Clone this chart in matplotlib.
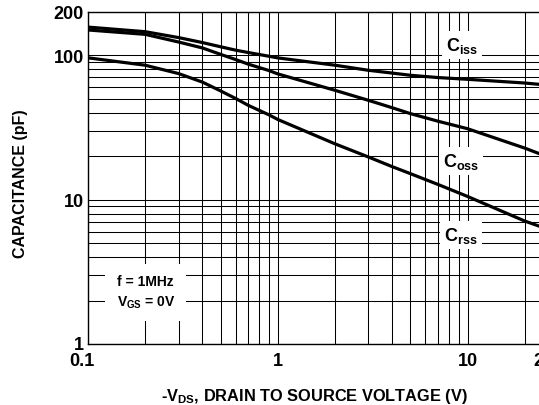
import matplotlib
matplotlib.use("Agg")
import matplotlib.pyplot as plt
import matplotlib.transforms as mtransforms
from matplotlib.ticker import NullFormatter, LogLocator

plt.rcParams['font.family'] = ['Liberation Sans', 'DejaVu Sans']
plt.rcParams['font.weight'] = 'bold'
plt.rcParams['mathtext.fontset'] = 'custom'
plt.rcParams['mathtext.rm'] = 'Liberation Sans:bold'
plt.rcParams['mathtext.default'] = 'rm'

# -VDS (V)
vds = [0.1, 0.2, 0.3, 0.4, 0.5, 0.6, 0.7, 0.9, 1, 2, 3, 4, 5, 7, 10, 20, 25]
# capacitances (pF)
ciss = [156, 145, 132, 122, 114, 108, 104, 98, 95.5, 85, 78.4, 75, 72.4, 69.8, 67.9, 64, 62.3]
coss = [149, 139, 123, 112, 101, 93, 86.4, 78, 74, 57, 48.6, 43.2, 39.3, 34.8, 30.9, 22.7, 20.3]
crss = [95.6, 85, 74.4, 65, 56.4, 50, 44.8, 38.5, 35.8, 24.3, 19.7, 16.9, 15.1, 12.7, 10.5, 7.1, 6.4]

xticks = [0.1, 1, 10, 25]
xticklabels = ['0.1', '1', '10', '25']
yticks = [1, 10, 100, 200]
yticklabels = ['1', '10', '100', '200']

fig = plt.figure(figsize=(5.39, 4.06), dpi=100)
ax = fig.add_axes([0.1633, 0.1502, 0.8442, 0.819])

for c in (ciss, coss, crss):
    ax.plot(vds, c, color='black', lw=2.3, zorder=5, solid_capstyle='butt')

ax.set_xscale('log')
ax.set_yscale('log')
ax.set_xlim(0.1, 25)
ax.set_ylim(1, 200)

ax.xaxis.set_minor_locator(LogLocator(base=10, subs=range(2, 10)))
ax.yaxis.set_minor_locator(LogLocator(base=10, subs=range(2, 10)))
ax.xaxis.set_minor_formatter(NullFormatter())
ax.yaxis.set_minor_formatter(NullFormatter())
ax.set_xticks(xticks)
ax.set_xticklabels(xticklabels)
ax.set_yticks(yticks)
ax.set_yticklabels(yticklabels)
ax.tick_params(which='both', length=0)
ax.tick_params(axis='x', pad=6, labelsize=13)
ax.tick_params(axis='y', pad=3, labelsize=13)
ax.grid(which='both', color='black', lw=0.75, zorder=1)
for s in ax.spines.values():
    s.set_linewidth(1.0)

# the 0.1 label sits a little left of its gridline, the bottom 1 a little high
lab = ax.get_xticklabels()[0]
lab.set_transform(lab.get_transform() + mtransforms.ScaledTranslation(-6 / 100, 0, fig.dpi_scale_trans))
lab = ax.get_yticklabels()[0]
lab.set_transform(lab.get_transform() + mtransforms.ScaledTranslation(0, 2 / 100, fig.dpi_scale_trans))

box = dict(facecolor='white', edgecolor='none', pad=3)
ax.text(0.822, 0.899, r'C$_{iss}$', transform=ax.transAxes, ha='center', va='center',
        fontsize=13, bbox=box, zorder=3)
ax.text(0.820, 0.550, r'C$_{oss}$', transform=ax.transAxes, ha='center', va='center',
        fontsize=13, bbox=box, zorder=3)
ax.text(0.820, 0.328, r'C$_{rss}$', transform=ax.transAxes, ha='center', va='center',
        fontsize=13, bbox=box, zorder=3)
ax.text(0.127, 0.156, 'f = 1MHz\nV$_{GS}$ = 0V', transform=ax.transAxes, ha='center',
        va='center', multialignment='center', fontsize=10, linespacing=1.5,
        bbox=dict(facecolor='white', edgecolor='none', pad=8), zorder=3)

fig.text(21 / 539, 1 - 184 / 406, 'CAPACITANCE (pF)', rotation=90, ha='center',
         va='center', fontsize=11.5)
fig.text(314 / 539, 1 - 397 / 406, r'-V$_{DS}$, DRAIN TO SOURCE VOLTAGE (V)', ha='center',
         va='center', fontsize=11.8)

fig.savefig('out.png', dpi=100)
